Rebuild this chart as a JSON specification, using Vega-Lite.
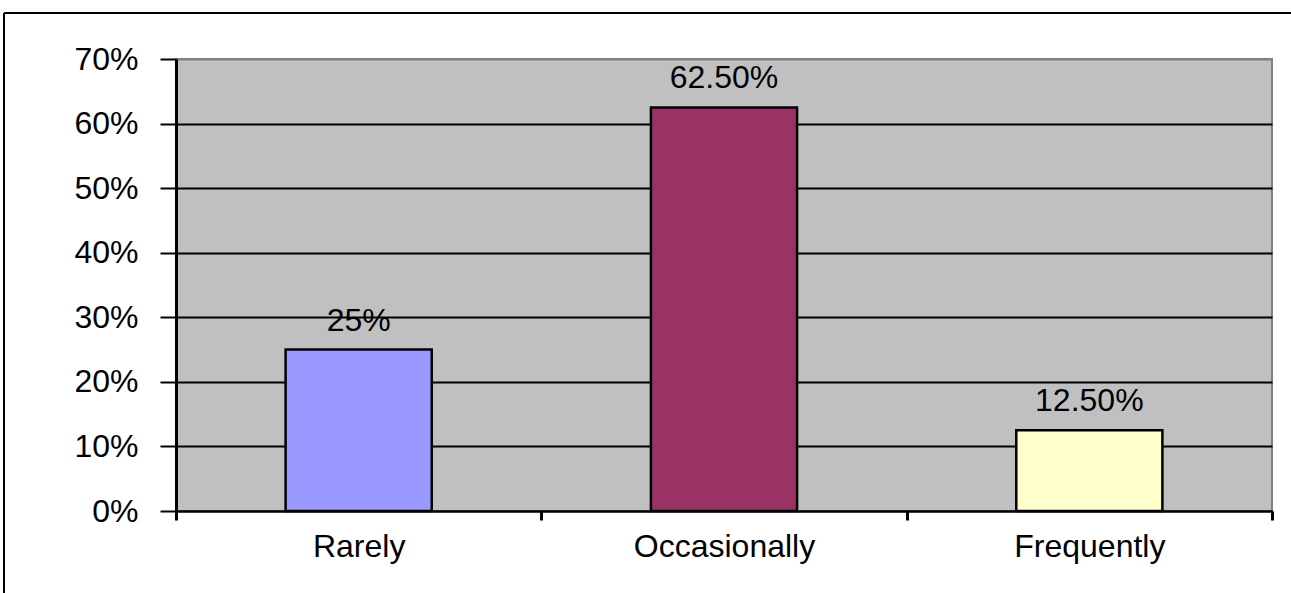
{
  "$schema": "https://vega.github.io/schema/vega-lite/v6.json",
  "width": 1096,
  "height": 452,
  "autosize": {"type": "none"},
  "padding": {"left": 176, "top": 59, "right": 19, "bottom": 82},
  "background": "white",
  "config": {
    "view": {"fill": "#C0C0C0", "stroke": "#808080", "strokeWidth": 2},
    "font": "Liberation Sans"
  },
  "data": {
    "values": [
      {"frequency": "Rarely", "share": 0.25, "label": "25%"},
      {"frequency": "Occasionally", "share": 0.625, "label": "62.50%"},
      {"frequency": "Frequently", "share": 0.125, "label": "12.50%"}
    ]
  },
  "layer": [
    {
      "mark": {"type": "bar", "width": {"band": 0.4}, "stroke": "black", "strokeWidth": 2.5, "opacity": 1},
      "encoding": {
        "x": {
          "field": "frequency", "type": "nominal", "sort": null,
          "scale": {"paddingInner": 0, "paddingOuter": 0},
          "axis": {
            "title": null, "labelAngle": 0, "labelFontSize": 32, "labelColor": "black",
            "labelFont": "Liberation Sans", "labelLimit": 500,
            "tickBand": "extent", "tickSize": 9, "tickColor": "black", "tickWidth": 3,
            "domainColor": "black", "domainWidth": 2, "labelPadding": 11, "grid": false
          }
        },
        "y": {
          "field": "share", "type": "quantitative",
          "scale": {"domain": [0, 0.7], "nice": false},
          "axis": {
            "title": null, "values": [0, 0.1, 0.2, 0.3, 0.4, 0.5, 0.6, 0.7],
            "format": ".0%", "labelFontSize": 32, "labelColor": "black",
            "labelFont": "Liberation Sans", "labelPadding": 22,
            "tickSize": 16, "tickColor": "black", "tickWidth": 2,
            "domainColor": "black", "domainWidth": 3,
            "grid": true,
            "gridColor": {"condition": {"test": "datum.value >= 0.69", "value": "#808080"}, "value": "black"},
            "gridWidth": 2
          }
        },
        "color": {
          "field": "frequency", "type": "nominal",
          "scale": {"domain": ["Rarely", "Occasionally", "Frequently"], "range": ["#9999FF", "#993366", "#FFFFCC"]},
          "legend": null
        }
      }
    },
    {
      "mark": {"type": "text", "baseline": "alphabetic", "dy": -19, "fontSize": 32, "color": "black", "font": "Liberation Sans"},
      "encoding": {
        "x": {"field": "frequency", "type": "nominal", "sort": null, "scale": {"paddingInner": 0, "paddingOuter": 0}, "axis": null},
        "y": {"field": "share", "type": "quantitative"},
        "text": {"field": "label"}
      }
    },
    {
      "data": {"values": [{}]},
      "mark": {"type": "rule", "color": "black", "strokeWidth": 2},
      "encoding": {
        "x": {"datum": -0.4708, "type": "quantitative", "scale": {"domain": [0, 3]}, "axis": null},
        "y": {"datum": 0.7712, "type": "quantitative"},
        "y2": {"datum": -0.2}
      }
    },
    {
      "data": {"values": [{}]},
      "mark": {"type": "rule", "color": "black", "strokeWidth": 2},
      "encoding": {
        "x": {"datum": -0.4708, "type": "quantitative", "scale": {"domain": [0, 3]}, "axis": null},
        "x2": {"datum": 3.2},
        "y": {"datum": 0.7712, "type": "quantitative"}
      }
    }
  ],
  "resolve": {"scale": {"x": "independent", "color": "independent"}, "axis": {"x": "independent"}}
}
